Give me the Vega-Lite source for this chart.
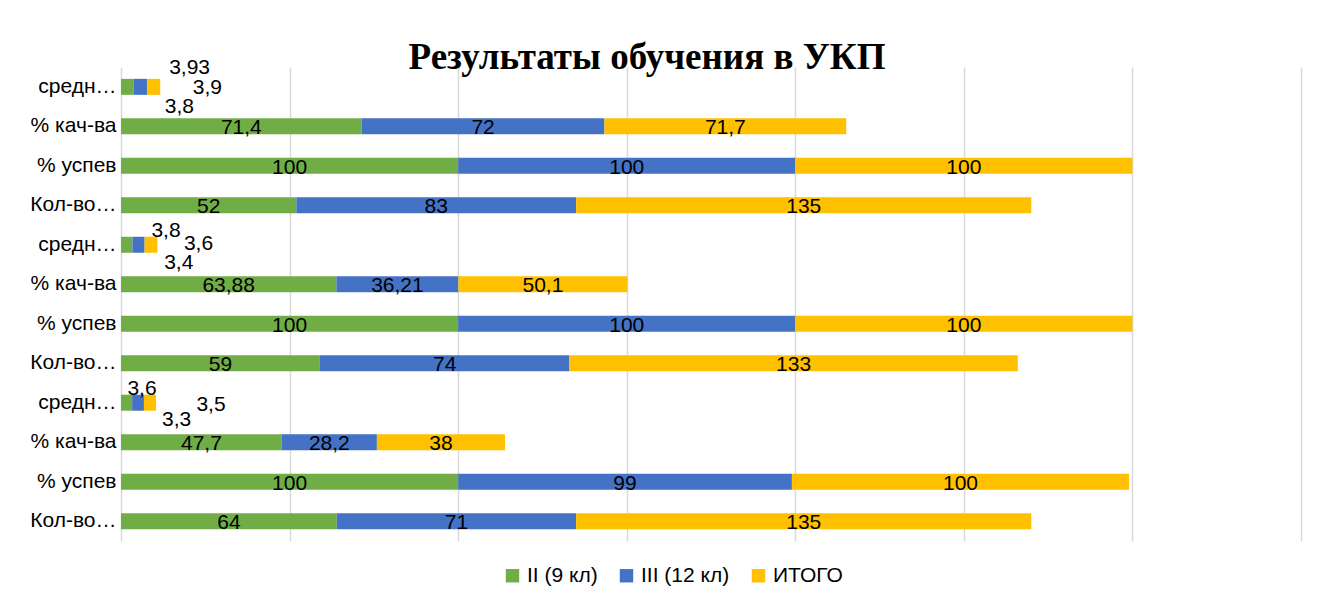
{
  "$schema": "https://vega.github.io/schema/vega-lite/v6.json",
  "width": 1180,
  "height": 474,
  "autosize": {"type": "none"},
  "padding": {"left": 121, "top": 67, "right": 22, "bottom": 66},
  "background": "white",
  "title": {"text": "Результаты обучения в УКП", "font": "Liberation Serif", "fontSize": 37, "fontWeight": "bold", "color": "#000000", "anchor": "middle", "dx": -64, "offset": -20},
  "config": {
    "view": {"stroke": null},
    "locale": {"number": {"decimal": ",", "thousands": " ", "grouping": [3], "currency": ["", ""]}}
  },
  "data": {"values": [
    {"block": 1, "key": "средн…#1", "series": "II (9 кл)", "s": 0, "value": 3.8},
    {"block": 1, "key": "средн…#1", "series": "III (12 кл)", "s": 1, "value": 3.9},
    {"block": 1, "key": "средн…#1", "series": "ИТОГО", "s": 2, "value": 3.93},
    {"block": 1, "key": "% кач-ва#1", "series": "II (9 кл)", "s": 0, "value": 71.4},
    {"block": 1, "key": "% кач-ва#1", "series": "III (12 кл)", "s": 1, "value": 72},
    {"block": 1, "key": "% кач-ва#1", "series": "ИТОГО", "s": 2, "value": 71.7},
    {"block": 1, "key": "% успев#1", "series": "II (9 кл)", "s": 0, "value": 100},
    {"block": 1, "key": "% успев#1", "series": "III (12 кл)", "s": 1, "value": 100},
    {"block": 1, "key": "% успев#1", "series": "ИТОГО", "s": 2, "value": 100},
    {"block": 1, "key": "Кол-во…#1", "series": "II (9 кл)", "s": 0, "value": 52},
    {"block": 1, "key": "Кол-во…#1", "series": "III (12 кл)", "s": 1, "value": 83},
    {"block": 1, "key": "Кол-во…#1", "series": "ИТОГО", "s": 2, "value": 135},
    {"block": 2, "key": "средн…#2", "series": "II (9 кл)", "s": 0, "value": 3.4},
    {"block": 2, "key": "средн…#2", "series": "III (12 кл)", "s": 1, "value": 3.6},
    {"block": 2, "key": "средн…#2", "series": "ИТОГО", "s": 2, "value": 3.8},
    {"block": 2, "key": "% кач-ва#2", "series": "II (9 кл)", "s": 0, "value": 63.88},
    {"block": 2, "key": "% кач-ва#2", "series": "III (12 кл)", "s": 1, "value": 36.21},
    {"block": 2, "key": "% кач-ва#2", "series": "ИТОГО", "s": 2, "value": 50.1},
    {"block": 2, "key": "% успев#2", "series": "II (9 кл)", "s": 0, "value": 100},
    {"block": 2, "key": "% успев#2", "series": "III (12 кл)", "s": 1, "value": 100},
    {"block": 2, "key": "% успев#2", "series": "ИТОГО", "s": 2, "value": 100},
    {"block": 2, "key": "Кол-во…#2", "series": "II (9 кл)", "s": 0, "value": 59},
    {"block": 2, "key": "Кол-во…#2", "series": "III (12 кл)", "s": 1, "value": 74},
    {"block": 2, "key": "Кол-во…#2", "series": "ИТОГО", "s": 2, "value": 133},
    {"block": 3, "key": "средн…#3", "series": "II (9 кл)", "s": 0, "value": 3.3},
    {"block": 3, "key": "средн…#3", "series": "III (12 кл)", "s": 1, "value": 3.5},
    {"block": 3, "key": "средн…#3", "series": "ИТОГО", "s": 2, "value": 3.6},
    {"block": 3, "key": "% кач-ва#3", "series": "II (9 кл)", "s": 0, "value": 47.7},
    {"block": 3, "key": "% кач-ва#3", "series": "III (12 кл)", "s": 1, "value": 28.2},
    {"block": 3, "key": "% кач-ва#3", "series": "ИТОГО", "s": 2, "value": 38},
    {"block": 3, "key": "% успев#3", "series": "II (9 кл)", "s": 0, "value": 100},
    {"block": 3, "key": "% успев#3", "series": "III (12 кл)", "s": 1, "value": 99},
    {"block": 3, "key": "% успев#3", "series": "ИТОГО", "s": 2, "value": 100},
    {"block": 3, "key": "Кол-во…#3", "series": "II (9 кл)", "s": 0, "value": 64},
    {"block": 3, "key": "Кол-во…#3", "series": "III (12 кл)", "s": 1, "value": 71},
    {"block": 3, "key": "Кол-во…#3", "series": "ИТОГО", "s": 2, "value": 135}
  ]},
  "transform": [
    {"stack": "value", "groupby": ["key"], "sort": [{"field": "s", "order": "ascending"}], "as": ["x0", "x1"]},
    {"calculate": "(datum.x0 + datum.x1) / 2", "as": "mid"}
  ],
  "encoding": {
    "y": {
      "field": "key", "type": "nominal", "sort": null,
      "scale": {"paddingInner": 0.595, "paddingOuter": 0.3},
      "axis": {"title": null, "ticks": false, "domain": false, "grid": false, "labelExpr": "split(datum.value, '#')[0] + (indexof(datum.value, '%') == 0 ? '\u2002\u2004' : '')", "labelFont": "Liberation Sans", "labelFontSize": 21, "labelColor": "#000000", "labelPadding": 5}
    }
  },
  "layer": [
    {
      "mark": {"type": "bar"},
      "encoding": {
        "x": {"field": "x0", "type": "quantitative", "scale": {"domain": [0, 350], "nice": false}, "axis": {"title": null, "values": [0, 50, 100, 150, 200, 250, 300, 350], "labels": false, "ticks": false, "domain": false, "grid": true, "gridColor": "#D9D9D9", "gridWidth": 1.5}},
        "x2": {"field": "x1"},
        "color": {"field": "series", "type": "nominal", "scale": {"domain": ["II (9 кл)", "III (12 кл)", "ИТОГО"], "range": ["#70AD47", "#4472C4", "#FFC000"]},
          "legend": {"orient": "none", "legendX": 381, "legendY": 498, "direction": "horizontal", "title": null, "symbolType": "square", "symbolSize": 180, "symbolStrokeWidth": 0, "labelFontSize": 21, "labelFont": "Liberation Sans", "labelColor": "#000000", "columnPadding": 18, "labelOffset": 4}}
      }
    },
    {
      "transform": [{"filter": "indexof(datum.key, 'средн') != 0"}],
      "mark": {"type": "text", "font": "Liberation Sans", "fontSize": 21, "color": "#000000", "baseline": "middle", "dy": 2},
      "encoding": {"x": {"field": "mid", "type": "quantitative"}, "text": {"field": "value", "type": "quantitative", "format": "~g"}}
    },
    {"transform": [{"filter": "datum.block == 1 && datum.s == 2 && indexof(datum.key, 'средн') == 0"}], "mark": {"type": "text", "font": "Liberation Sans", "fontSize": 21, "color": "#000000", "baseline": "middle", "dx": 36, "dy": -19}, "encoding": {"x": {"field": "mid", "type": "quantitative"}, "text": {"field": "value", "type": "quantitative", "format": "~g"}}},
    {"transform": [{"filter": "datum.block == 1 && datum.s == 1 && indexof(datum.key, 'средн') == 0"}], "mark": {"type": "text", "font": "Liberation Sans", "fontSize": 21, "color": "#000000", "baseline": "middle", "dx": 67, "dy": 1}, "encoding": {"x": {"field": "mid", "type": "quantitative"}, "text": {"field": "value", "type": "quantitative", "format": "~g"}}},
    {"transform": [{"filter": "datum.block == 1 && datum.s == 0 && indexof(datum.key, 'средн') == 0"}], "mark": {"type": "text", "font": "Liberation Sans", "fontSize": 21, "color": "#000000", "baseline": "middle", "dx": 52, "dy": 20}, "encoding": {"x": {"field": "mid", "type": "quantitative"}, "text": {"field": "value", "type": "quantitative", "format": "~g"}}},
    {"transform": [{"filter": "datum.block == 2 && datum.s == 2 && indexof(datum.key, 'средн') == 0"}], "mark": {"type": "text", "font": "Liberation Sans", "fontSize": 21, "color": "#000000", "baseline": "middle", "dx": 15, "dy": -14}, "encoding": {"x": {"field": "mid", "type": "quantitative"}, "text": {"field": "value", "type": "quantitative", "format": "~g"}}},
    {"transform": [{"filter": "datum.block == 2 && datum.s == 1 && indexof(datum.key, 'средн') == 0"}], "mark": {"type": "text", "font": "Liberation Sans", "fontSize": 21, "color": "#000000", "baseline": "middle", "dx": 60, "dy": -1}, "encoding": {"x": {"field": "mid", "type": "quantitative"}, "text": {"field": "value", "type": "quantitative", "format": "~g"}}},
    {"transform": [{"filter": "datum.block == 2 && datum.s == 0 && indexof(datum.key, 'средн') == 0"}], "mark": {"type": "text", "font": "Liberation Sans", "fontSize": 21, "color": "#000000", "baseline": "middle", "dx": 52, "dy": 18}, "encoding": {"x": {"field": "mid", "type": "quantitative"}, "text": {"field": "value", "type": "quantitative", "format": "~g"}}},
    {"transform": [{"filter": "datum.block == 3 && datum.s == 2 && indexof(datum.key, 'средн') == 0"}], "mark": {"type": "text", "font": "Liberation Sans", "fontSize": 21, "color": "#000000", "baseline": "middle", "dx": -8, "dy": -14}, "encoding": {"x": {"field": "mid", "type": "quantitative"}, "text": {"field": "value", "type": "quantitative", "format": "~g"}}},
    {"transform": [{"filter": "datum.block == 3 && datum.s == 1 && indexof(datum.key, 'средн') == 0"}], "mark": {"type": "text", "font": "Liberation Sans", "fontSize": 21, "color": "#000000", "baseline": "middle", "dx": 73, "dy": 2}, "encoding": {"x": {"field": "mid", "type": "quantitative"}, "text": {"field": "value", "type": "quantitative", "format": "~g"}}},
    {"transform": [{"filter": "datum.block == 3 && datum.s == 0 && indexof(datum.key, 'средн') == 0"}], "mark": {"type": "text", "font": "Liberation Sans", "fontSize": 21, "color": "#000000", "baseline": "middle", "dx": 50, "dy": 17}, "encoding": {"x": {"field": "mid", "type": "quantitative"}, "text": {"field": "value", "type": "quantitative", "format": "~g"}}}
  ]
}
